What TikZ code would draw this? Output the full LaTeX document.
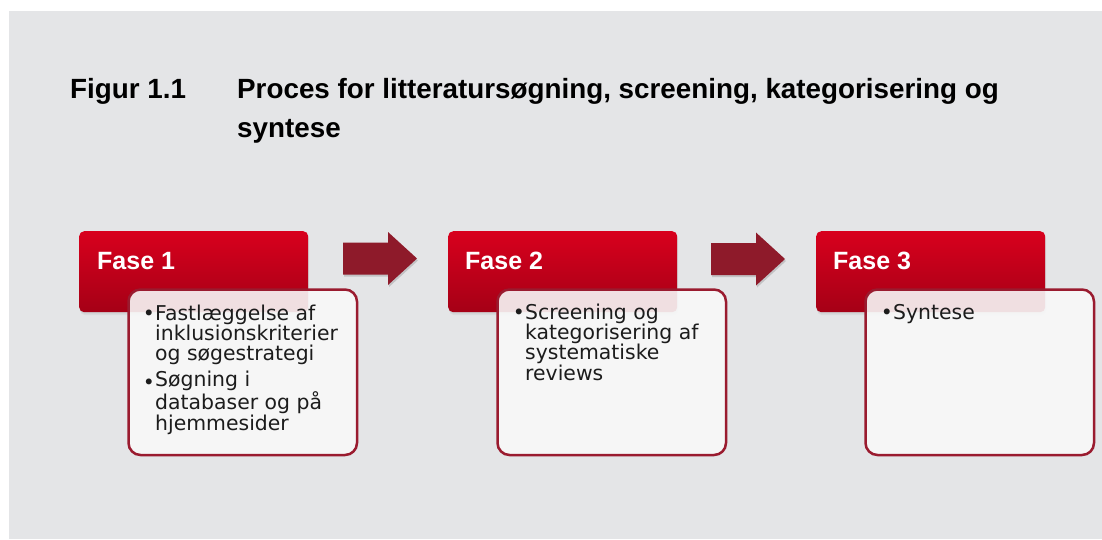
\documentclass[tikz,border=0pt]{standalone}
\usepackage{fontspec}
\setmainfont{DejaVu Sans}
\newfontfamily\hfont{Liberation Sans}
\usetikzlibrary{shadows}
\definecolor{bg}{HTML}{E4E5E7}
\definecolor{redtop}{HTML}{D8001D}
\definecolor{redbot}{HTML}{A50016}
\definecolor{wine}{HTML}{8E1A2A}
\definecolor{frame}{HTML}{9A1B2F}
\definecolor{paper}{HTML}{F8F8F8}
\definecolor{ink}{HTML}{1C1C1C}
\begin{document}
\begin{tikzpicture}[x=1pt,y=-1pt,
  head/.style={rectangle, rounded corners=5pt, top color=redtop, bottom color=redbot,
    minimum width=229pt, minimum height=81pt, anchor=north west, inner sep=0pt,
    drop shadow={opacity=0.10, shadow xshift=1pt, shadow yshift=-3pt},
    drop shadow={opacity=0.10, shadow xshift=0.5pt, shadow yshift=-1.5pt}},
  headtxt/.style={anchor=base west, inner sep=0pt, text=white,
    font=\hfont\bfseries\fontsize{25pt}{30pt}\selectfont},
  card/.style={rectangle, rounded corners=12pt, draw=frame, line width=2.5pt,
    fill=paper, fill opacity=0.9, minimum width=228.5pt, minimum height=165.5pt,
    anchor=north west, inner sep=0pt},
  bodytxt/.style={anchor=base west, inner sep=0pt, align=left, text=ink,
    font=\fontsize{20.4pt}{20.4pt}\selectfont},
  bul/.style={anchor=base east, inner sep=0pt, text=ink,
    font=\fontsize{20.4pt}{20.4pt}\selectfont},
  titletxt/.style={anchor=base west, inner sep=0pt, align=left, text=black,
    font=\hfont\bfseries\fontsize{27.8pt}{39.5pt}\selectfont},
  blockarrow/.pic={
    \fill[black, opacity=0.15] (1,-14) -- (46,-14) -- (46,-24.5) -- (75,2) -- (46,28.5) -- (46,18) -- (1,18) -- cycle;
    \fill[wine] (0,-16) -- (45,-16) -- (45,-26.5) -- (74,0) -- (45,26.5) -- (45,16) -- (0,16) -- cycle;
  }]
\useasboundingbox (0,0) rectangle (1102,539);
\fill[white] (0,0) rectangle (1102,539);
\fill[bg] (9,11) rectangle (1102,539);

% title (multi-line nodes: base anchor = last line's baseline)
\node[titletxt] (fig) at (70,98) {Figur 1.1};
\node[titletxt] (title) at (237,137.5) {Proces for litteratursøgning, screening, kategorisering og\\syntese};

% arrows
\pic (a1) at (343,258.5) {blockarrow};
\pic (a2) at (711,259) {blockarrow};

% phase headers
\node[head] (h1) at (79,231) {};
\node[head] (h2) at (448,231) {};
\node[head] (h3) at (816,231) {};
\node[headtxt] (h1t) at (97,269) {Fase 1};
\node[headtxt] (h2t) at (465,269) {Fase 2};
\node[headtxt] (h3t) at (833,269) {Fase 3};

% cards
\node[card] (c1) at (127.25,288.25) {};
\node[card] (c2) at (496.25,288.25) {};
\node[card] (c3) at (864.25,288.25) {};

% card texts
\node[bul] (b1a) at (155,320) {•};
\node[bodytxt] (t1a) at (155,360.8) {Fastlæggelse af\\inklusionskriterier\\og søgestrategi};
\node[bul] (b1b) at (155,389.5) {•};
\node[bodytxt] (t1b) at (155,430.3) {Søgning i\\databaser og på\\hjemmesider};
\node[bul] (b2a) at (525,319) {•};
\node[bodytxt] (t2a) at (525,380.2) {Screening og\\kategorisering af\\systematiske\\reviews};
\node[bul] (b3a) at (893,319) {•};
\node[bodytxt] (t3a) at (893,319) {Syntese};
\end{tikzpicture}
\end{document}
